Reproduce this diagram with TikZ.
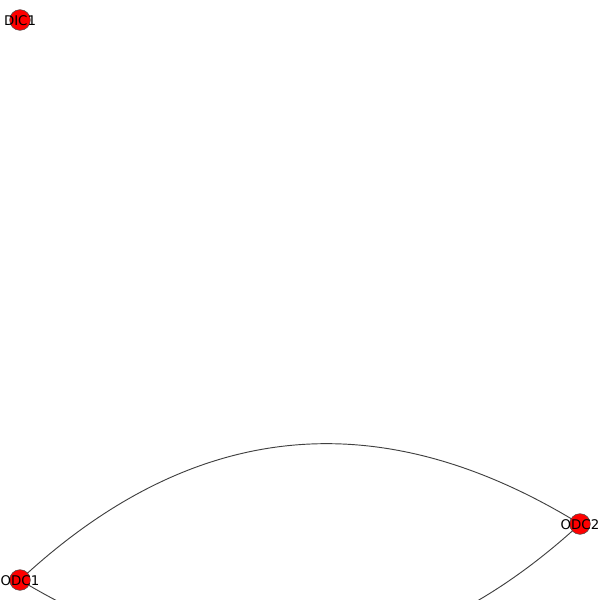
\documentclass[tikz,border=0pt]{standalone}
\usepackage{fontspec}
\setmainfont{DejaVu Sans}
\usetikzlibrary{backgrounds}
\begin{document}
\begin{tikzpicture}[x=0.75pt,y=-0.75pt,
  vertex/.style={circle,fill=red,draw=black!70,line width=0.4pt,minimum size=15.5pt,inner sep=0pt},
  vlabel/.style={font=\fontsize{10}{12}\selectfont,inner sep=0pt,text=black,yshift=-0.75pt},
  edge/.style={draw=black!75,line width=0.7pt}]
\useasboundingbox (0,0) rectangle (600,600);
\clip (0,0) rectangle (600,600);
\node[vertex] (DIC1) at (20,20) {};
\node[vertex] (ODC1) at (20,580) {};
\node[vertex] (ODC2) at (580,524) {};
\node[vlabel] at (DIC1) {DIC1};
\node[vlabel] at (ODC1) {ODC1};
\node[vlabel] at (ODC2) {ODC2};
\begin{scope}[on background layer]
\draw[edge] (ODC1.center) .. controls (192.7,419.3) and (379.3,400.7) .. (ODC2.center);
\draw[edge] (ODC1.center) .. controls (220.7,701.3) and (407.3,682.7) .. (ODC2.center);
\end{scope}
\end{tikzpicture}
\end{document}
